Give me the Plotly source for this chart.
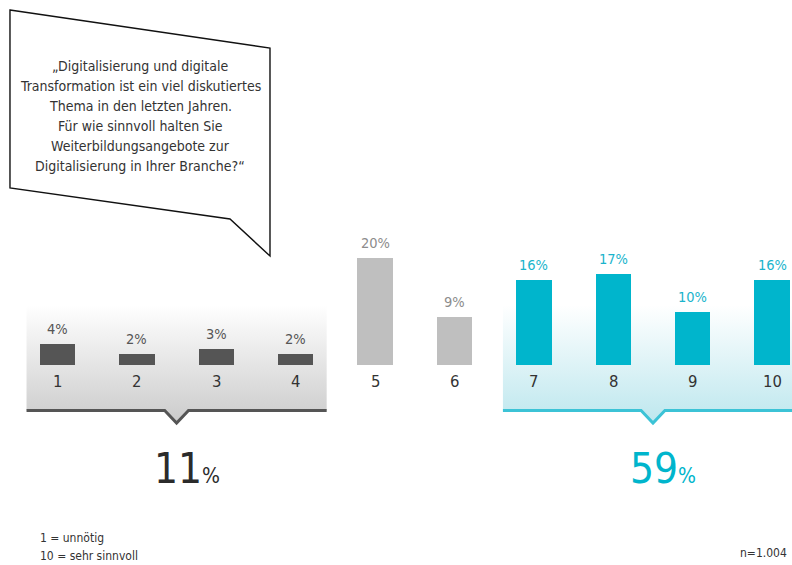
import plotly.graph_objects as go

# --- data -------------------------------------------------------------
categories = ["1", "2", "3", "4", "5", "6", "7", "8", "9", "10"]
values = [4, 2, 3, 2, 20, 9, 16, 17, 10, 16]
value_labels = ["4%", "2%", "3%", "2%", "20%", "9%", "16%", "17%", "10%", "16%"]
group_low = ["1", "2", "3", "4"]
group_high = ["7", "8", "9", "10"]
total_low = "11"
total_high = "59"
question_lines = [
    "„Digitalisierung und digitale",
    "Transformation ist ein viel diskutiertes",
    "Thema in den letzten Jahren.",
    "Für wie sinnvoll halten Sie",
    "Weiterbildungsangebote zur",
    "Digitalisierung in Ihrer Branche?“",
]
scale_notes = ["1 = unnötig", "10 = sehr sinnvoll"]
sample_note = "n=1.004"

# --- styling ------------------------------------------------------------
W, H = 792, 565
FONT = "DejaVu Sans Condensed, DejaVu Sans, sans-serif"
DARK = "#555555"
MID = "#bfbfbf"
CYAN = "#00b5cc"
TEXT = "#333333"

# axis geometry (one unit per category, percentage on y)
X0_PX, STEP_PX = 57.5, 79.4
BASE_PX, PX_PER_PCT = 365.0, 5.33
x_range = [1 - X0_PX / STEP_PX, 1 + (W - X0_PX) / STEP_PX]
y_range = [(BASE_PX - H) / PX_PER_PCT, BASE_PX / PX_PER_PCT]


def yd(py):
    """screen row -> y axis value"""
    return (BASE_PX - py) / PX_PER_PCT


def pos(cat):
    return categories.index(cat) + 1


bar_colors = []
label_colors = []
for c in categories:
    if c in group_low:
        bar_colors.append(DARK)
        label_colors.append(DARK)
    elif c in group_high:
        bar_colors.append(CYAN)
        label_colors.append("#1ab4cc")
    else:
        bar_colors.append(MID)
        label_colors.append("#8c8c8c")

fig = go.Figure()


def group_panel(cats, grad_color, line_color, right_pad=0.39):
    left = pos(cats[0]) - 0.39
    right = pos(cats[-1]) + right_pad
    mid = (pos(cats[0]) + pos(cats[-1])) / 2
    half = 0.15
    top, bottom, tip = yd(305), yd(410.5), yd(423)
    fig.add_trace(go.Scatter(
        x=[left, right, right, mid + half, mid, mid - half, left, left],
        y=[top, top, bottom, bottom, tip, bottom, bottom, top],
        mode="lines", line=dict(width=0), fill="toself",
        fillgradient=dict(type="vertical",
                          colorscale=[[0, grad_color], [1, "#ffffff"]],
                          start=yd(423), stop=yd(305)),
        hoverinfo="skip", showlegend=False, xaxis="x", yaxis="y"))
    fig.add_trace(go.Scatter(
        x=[left, mid - half, mid, mid + half, right],
        y=[bottom, bottom, tip, bottom, bottom],
        mode="lines", line=dict(color=line_color, width=3),
        hoverinfo="skip", showlegend=False, xaxis="x", yaxis="y"))
    return mid


mid_low = group_panel(group_low, "#cbcbcb", DARK)
mid_high = group_panel(group_high, "#bde7ee", "#3cc3d6", right_pad=0.6)

# bars on an overlaying axis pair so they sit above the panels
fig.add_trace(go.Bar(
    x=[pos(c) for c in categories], y=values, width=0.447,
    marker=dict(color=bar_colors, line=dict(width=0)),
    hoverinfo="skip", showlegend=False, xaxis="x2", yaxis="y2"))

axis_common = dict(visible=False, fixedrange=True)
fig.update_layout(
    width=W, height=H,
    margin=dict(l=0, r=0, t=0, b=0),
    paper_bgcolor="white", plot_bgcolor="rgba(0,0,0,0)",
    xaxis=dict(range=x_range, domain=[0, 1], **axis_common),
    yaxis=dict(range=y_range, domain=[0, 1], **axis_common),
    xaxis2=dict(range=x_range, overlaying="x", **axis_common),
    yaxis2=dict(range=y_range, overlaying="y", **axis_common),
    font=dict(family=FONT, color=TEXT),
    bargap=0,
)

annotations = []
# value labels above bars and category labels below the baseline
for i, c in enumerate(categories):
    annotations.append(dict(
        x=pos(c), y=values[i], xref="x", yref="y", text=value_labels[i],
        showarrow=False, yanchor="bottom", yshift=5,
        font=dict(family=FONT, size=14.5, color=label_colors[i])))
    annotations.append(dict(
        x=pos(c), y=yd(381), xref="x", yref="y", text=c,
        showarrow=False, yanchor="middle",
        font=dict(family=FONT, size=16.5, color=TEXT)))

# group totals
for mid, total, color in [(mid_low, total_low, "#2b2b2b"), (mid_high, total_high, CYAN)]:
    annotations.append(dict(
        x=mid, y=yd(468), xref="x", yref="y", xshift=10,
        text=f"<span style='font-size:42px'>{total}</span>"
             f"<span style='font-size:21px'>%</span>",
        showarrow=False, yanchor="middle",
        font=dict(family=FONT, color=color)))

# question text inside the speech bubble
for k, line in enumerate(question_lines):
    annotations.append(dict(
        x=140 / W, y=1 - (66 + 20 * k) / H, xref="paper", yref="paper",
        text=line, showarrow=False, xanchor="center", yanchor="middle",
        font=dict(family=FONT, size=14, color=TEXT)))

# footnotes
for k, note in enumerate(scale_notes):
    annotations.append(dict(
        x=38 / W, y=1 - (538 + 18 * k) / H, xref="paper", yref="paper",
        text=note, showarrow=False, xanchor="left", yanchor="middle",
        font=dict(family=FONT, size=12, color=TEXT)))
annotations.append(dict(
    x=789 / W, y=1 - 553 / H, xref="paper", yref="paper",
    text=sample_note, showarrow=False, xanchor="right", yanchor="middle",
    font=dict(family=FONT, size=12, color=TEXT)))

fig.update_layout(annotations=annotations)

# speech bubble outline
bubble = [(10, 10), (270, 48), (270, 256), (230, 219), (10, 188)]
path = "M " + " L ".join(f"{x / W:.4f},{1 - y / H:.4f}" for x, y in bubble) + " Z"
fig.add_shape(type="path", path=path, xref="paper", yref="paper",
              line=dict(color="#111111", width=1.4), fillcolor="white",
              layer="below")

fig.write_html("out.html")
